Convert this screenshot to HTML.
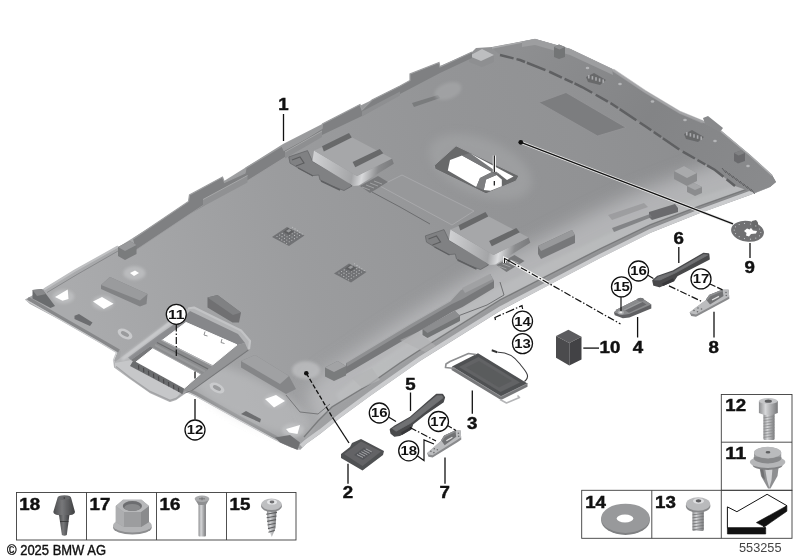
<!DOCTYPE html>
<html><head><meta charset="utf-8"><title>Headliner</title>
<style>
html,body{margin:0;padding:0;background:#fff;}
svg{display:block;}
text{font-family:"Liberation Sans",sans-serif;fill:#111;}
.b{font-weight:bold;}
.c{font-weight:normal;}
</style></head><body>
<svg width="800" height="560" viewBox="0 0 800 560">
<defs>
<linearGradient id="gSurf" gradientUnits="userSpaceOnUse" x1="80" y1="330" x2="720" y2="150">
<stop offset="0" stop-color="#aaabad"/><stop offset="0.35" stop-color="#9b9c9e"/><stop offset="0.6" stop-color="#949597"/><stop offset="0.8" stop-color="#919294"/><stop offset="1" stop-color="#8c8d8f"/>
</linearGradient>
<linearGradient id="gRim" gradientUnits="userSpaceOnUse" x1="150" y1="430" x2="760" y2="180">
<stop offset="0" stop-color="#a3a4a6"/><stop offset="0.5" stop-color="#9b9c9e"/><stop offset="1" stop-color="#858688"/>
</linearGradient>
<linearGradient id="gBand" gradientUnits="userSpaceOnUse" x1="520" y1="40" x2="780" y2="190">
<stop offset="0" stop-color="#8e8f91"/><stop offset="0.5" stop-color="#838486"/><stop offset="1" stop-color="#8a8b8d"/>
</linearGradient>
<linearGradient id="gSilver" gradientUnits="userSpaceOnUse" x1="0" y1="0" x2="1" y2="0">
<stop offset="0" stop-color="#c8c9cb"/><stop offset="1" stop-color="#8c8d8f"/>
</linearGradient>
<linearGradient id="gH1" gradientUnits="userSpaceOnUse" x1="313" y1="160" x2="394" y2="175">
<stop offset="0" stop-color="#cfd0d2"/><stop offset="0.5" stop-color="#a4a5a7"/><stop offset="0.62" stop-color="#d8d9db"/><stop offset="0.8" stop-color="#8a8b8d"/><stop offset="1" stop-color="#77787a"/>
</linearGradient>
<linearGradient id="gH2" gradientUnits="userSpaceOnUse" x1="449" y1="238" x2="531" y2="252">
<stop offset="0" stop-color="#cfd0d2"/><stop offset="0.5" stop-color="#a4a5a7"/><stop offset="0.62" stop-color="#dcdddf"/><stop offset="0.8" stop-color="#8a8b8d"/><stop offset="1" stop-color="#77787a"/>
</linearGradient>
<linearGradient id="gMetalV" x1="0" y1="0" x2="1" y2="0">
<stop offset="0" stop-color="#8d8e90"/><stop offset="0.35" stop-color="#d6d7d9"/><stop offset="1" stop-color="#77787a"/>
</linearGradient>
<linearGradient id="gDarkV" x1="0" y1="0" x2="1" y2="0">
<stop offset="0" stop-color="#4a4b4d"/><stop offset="0.4" stop-color="#77787a"/><stop offset="1" stop-color="#3e3f41"/>
</linearGradient>
<filter id="soft" x="-5%" y="-5%" width="110%" height="110%"><feGaussianBlur stdDeviation="0.6"/></filter>
<filter id="soft2" x="-20%" y="-20%" width="140%" height="140%"><feGaussianBlur stdDeviation="4"/></filter>
<filter id="soft1" x="-20%" y="-20%" width="140%" height="140%"><feGaussianBlur stdDeviation="1.5"/></filter>
<filter id="soft3" x="-20%" y="-20%" width="140%" height="140%"><feGaussianBlur stdDeviation="9"/></filter>

</defs>
<rect width="800" height="560" fill="#fff"/>
<g filter="url(#soft)">
<polygon points="25,299.5 42,290 75,270 120,246 192,201 240,171 283,144 330,120 372,100 400,86 440,66 472,52 476,48 492,47 535,39 570,49 612,69 645,91 680,112 705,122 720,130 750,155 772,175 776,182 770,187 750,195 700,213 650,233 600,258 545,287 500,311 460,336 420,361 400,375 370,396 340,418 320,434 306,444 300,450 290,447 275,440 240,421 195,396 186,392 176,399 170,401 150,392 130,378 115,367 114,360 117,353 100,343 60,320 30,304" fill="url(#gRim)" stroke="none" stroke-width="1" />
<polyline points="768,186 750,193 700,211 650,231 600,256 545,285 500,308.5 460,333.5 420,358.5 400,372.5 370,393.5 340,415.5 320,431.5 306,441.5 301,446" fill="none" stroke="#cbccce" stroke-width="4" />
<polygon points="33,298 42,291 75,271 120,247 192,202 240,172 283,145 330,121 372,101 400,87 440,67 472,53 492,48 535,41 570,51 612,71 645,93 680,114 705,124 720,132 750,157 768,176 764,182 745,189 700,205 650,224 600,248 545,276 500,299 460,324 420,349 400,362 370,383 332,406 318,420 304,436 297,443 275,434 240,415 199,392.5 186,387 176,394 169,396 150,387 130,373 119,364 121,351 100,339 60,316.5" fill="url(#gSurf)" stroke="none" stroke-width="1" />
<clipPath id="cpInner"><polygon points="33,298 42,291 75,271 120,247 192,202 240,172 283,145 330,121 372,101 400,87 440,67 472,53 492,48 535,41 570,51 612,71 645,93 680,114 705,124 720,132 750,157 768,176 764,182 745,189 700,205 650,224 600,248 545,276 500,299 460,324 420,349 400,362 370,383 332,406 318,420 304,436 297,443 275,434 240,415 199,392.5 186,387 176,394 169,396 150,387 130,373 119,364 121,351 100,339 60,316.5"/></clipPath>
<g clip-path="url(#cpInner)">
<polyline points="770,176 745,186 700,202 650,221 600,245 545,273 500,296 460,321 420,346 400,359 370,380 340,400" fill="none" stroke="#bfc0c2" stroke-width="64" opacity="0.75" filter="url(#soft3)" stroke-linecap="round"/>
</g>
<polygon points="545,277 500,300 460,325 420,350 400,363 370,384 340,402 336,394 366,370 398,349 418,336 458,311 498,287 543,265 600,238 650,215 700,197 745,182 764,176 764,183 745,190 700,206 650,225 600,249" fill="#c8c9cb" stroke="none" stroke-width="0" opacity="0.3" filter="url(#soft1)"/>
<polyline points="28,298.5 61.2,317.6 101.2,340.6 119,351" fill="none" stroke="#87888a" stroke-width="3.4" />
<polyline points="187,389.5 196.2,393.6 241.2,418.6 276.2,437.6 291,444.3 298,446.5" fill="none" stroke="#8a8b8d" stroke-width="3.4" />
<polyline points="26,300 60,319.5 100,342.5 116.5,352.5 113.5,360 114.5,366.5 130,377.5 150,391.5 170,400.5 176,398.5 186,391.5 195,395.5 240,420.5 275,439.5 290,446.5 300,449.5" fill="none" stroke="#c9cacc" stroke-width="1.3" />
<ellipse cx="250" cy="400" rx="68" ry="22" fill="#c9cacc" opacity="0.45" filter="url(#soft2)" transform="rotate(27 250 400)"/>
<polyline points="764,183 745,190 700,206 650,225 600,249 545,277 500,300 460,325 420,350 400,363 370,384 332,407 318,421 304,437" fill="none" stroke="#6f7072" stroke-width="1.3" opacity="0.8"/>
<polygon points="492,48 535,39 570,49 612,69 645,91 680,112 705,122 720,130 750,155 772,175 776,182 770,187 755,193 735,186 715,170 680,150 645,126 612,104 582,87 550,72 520,60 500,55" fill="url(#gBand)" stroke="none" stroke-width="1" />
<polyline points="492,48 535,39.5 570,49.5 612,69.5 645,91.5 680,112.5 705,122.5 720,130.5 750,155.5 772,175.5" fill="none" stroke="#a9aaac" stroke-width="1.5" />
<polyline points="500,55 520,60 550,72 582,87 612,104 645,126 680,150 715,170 735,186" fill="none" stroke="#5f6062" stroke-width="2.5" stroke-dasharray="14 3 9 2 20 4"/>
<polygon points="522,41.5 535,39 570,49 612,69 613,75 570,55 535,45 522,47" fill="#9d9ea0" stroke="none" stroke-width="1" />
<polyline points="613,70 645,91.5 680,112.5 703,122" fill="none" stroke="#a2a3a5" stroke-width="3" opacity="0.7"/>
<ellipse cx="587.5" cy="68" rx="1.8" ry="1.2" fill="#b4b5b7"/>
<ellipse cx="620" cy="84" rx="1.8" ry="1.2" fill="#b4b5b7"/>
<ellipse cx="652.5" cy="101.5" rx="1.8" ry="1.2" fill="#b4b5b7"/>
<ellipse cx="685" cy="120" rx="1.8" ry="1.2" fill="#b4b5b7"/>
<ellipse cx="715" cy="141" rx="1.8" ry="1.2" fill="#b4b5b7"/>
<ellipse cx="748" cy="166" rx="1.8" ry="1.2" fill="#b4b5b7"/>
<polyline points="500,282 504,295 487,305 450,319" fill="none" stroke="#707173" stroke-width="1" />
<line x1="722" y1="168" x2="726" y2="173" stroke="#5c5d5f" stroke-width="1" />
<line x1="725.6" y1="170.6" x2="729.6" y2="175.6" stroke="#5c5d5f" stroke-width="1" />
<line x1="729.2" y1="173.2" x2="733.2" y2="178.2" stroke="#5c5d5f" stroke-width="1" />
<line x1="732.8" y1="175.8" x2="736.8" y2="180.8" stroke="#5c5d5f" stroke-width="1" />
<line x1="736.4" y1="178.4" x2="740.4" y2="183.4" stroke="#5c5d5f" stroke-width="1" />
<line x1="740" y1="181" x2="744" y2="186" stroke="#5c5d5f" stroke-width="1" />
<line x1="743.6" y1="183.6" x2="747.6" y2="188.6" stroke="#5c5d5f" stroke-width="1" />
<line x1="747.2" y1="186.2" x2="751.2" y2="191.2" stroke="#5c5d5f" stroke-width="1" />
<line x1="750.8" y1="188.8" x2="754.8" y2="193.8" stroke="#5c5d5f" stroke-width="1" />
<polygon points="554,47 559,44.5 565,47 565,57 559,59 554,57" fill="#737476" stroke="none" stroke-width="1" />
<polygon points="554,47 559,44.5 565,47 559.5,49.5" fill="#8d8e90" stroke="none" stroke-width="1" />
<polygon points="734,153 741,150.5 745,153 745,161 738,163.5 734,161" fill="#6a6b6d" stroke="none" stroke-width="1" />
<polygon points="734,153 741,150.5 745,153 738.5,155.5" fill="#808183" stroke="none" stroke-width="1" />
<polygon points="586,77 594,73 606,80 600,85 588,82" fill="#68696b" stroke="none" stroke-width="1" />
<rect x="588" y="75" width="1.6" height="3.5" fill="#a9aaac"/>
<rect x="591.6" y="76.1" width="1.6" height="3.5" fill="#a9aaac"/>
<rect x="595.2" y="77.2" width="1.6" height="3.5" fill="#a9aaac"/>
<rect x="598.8" y="78.3" width="1.6" height="3.5" fill="#a9aaac"/>
<rect x="602.4" y="79.4" width="1.6" height="3.5" fill="#a9aaac"/>
<polygon points="684,134 692,130 704,137 698,142 686,139" fill="#68696b" stroke="none" stroke-width="1" />
<rect x="686" y="132" width="1.6" height="3.5" fill="#a9aaac"/>
<rect x="689.6" y="133.1" width="1.6" height="3.5" fill="#a9aaac"/>
<rect x="693.2" y="134.2" width="1.6" height="3.5" fill="#a9aaac"/>
<rect x="696.8" y="135.3" width="1.6" height="3.5" fill="#a9aaac"/>
<rect x="700.4" y="136.4" width="1.6" height="3.5" fill="#a9aaac"/>
<polygon points="469,56 482,49 494,55 494,62 482,67 469,62" fill="#8e8f91" stroke="none" stroke-width="1" />
<polygon points="469,56 482,49 494,55 481,61" fill="#bdbec0" stroke="none" stroke-width="1" />
<polygon points="703,118 708,116 723,128 720,132 705,124" fill="#88898b" stroke="none" stroke-width="1" />
<polygon points="133,239 188.5,201.5 189.5,195 222.5,177 224.5,182.5 245,173 246,168 282,146 284,150.5 307.5,137.5 322,128.5 322.5,124 360,104.5 362,110 372,100 400,86 410,80.5 410,74 439,62.5 440,67 472,52 472,58 440,73 400,94 362,116 322,135 284,158 247,181 225,191 202,207 190,214 136,250" fill="#7f8082" stroke="none" stroke-width="1" />
<polyline points="133,239 188.5,201.5 189.5,195 222.5,177 224.5,182.5 245,173 246,168 282,146 284,150.5 307.5,137.5 322,128.5 322.5,124 360,104.5 362,110 372,100 400,86 410,80.5 410,74 439,62.5 440,67 472,52" fill="none" stroke="#9c9d9f" stroke-width="1.2" />
<polyline points="136,250 190,214 225,191 247,181 284,158 322,135" fill="none" stroke="#9fa0a2" stroke-width="0.8" />
<polygon points="203,199.5 247.5,175.5 247.5,182.5 203,206.5" fill="#909193" stroke="none" stroke-width="1" />
<polyline points="203,199.5 247.5,175.5" fill="none" stroke="#a9aaac" stroke-width="0.9" />
<polygon points="285,152 322,131 322,137 285,158.5" fill="#8e8f91" stroke="none" stroke-width="1" />
<polyline points="285,152 322,131" fill="none" stroke="#a9aaac" stroke-width="0.9" />
<polygon points="362,111.5 400,91.5 400,95.5 362,116.5" fill="#8e8f91" stroke="none" stroke-width="1" />
<polyline points="44,289.5 75,270.5 118,246.5" fill="none" stroke="#bfc0c2" stroke-width="2.2" />
<polyline points="47,292.5 77,274.5 118,251" fill="none" stroke="#808183" stroke-width="1" opacity="0.8"/>
<polygon points="118,247 130,241 136.5,245 136.5,254 125,260 118,256" fill="#7a7b7d" stroke="none" stroke-width="1" />
<polygon points="118,247 130,241 136.5,245 125,251" fill="#98999b" stroke="none" stroke-width="1" />
<polygon points="32.5,290 42,289 46,294 55,306 50.5,308 32.5,298.5" fill="#6b6c6e" stroke="none" stroke-width="1" />
<polygon points="32.5,290 42,289 46,294 37,296" fill="#88898b" stroke="none" stroke-width="1" />
<polygon points="74.5,315.8 79,314 92.5,322.5 90,326 74.5,319" fill="#6c6d6f" stroke="none" stroke-width="1" />
<polygon points="538.8,102.5 566,92.5 626,127.5 597.5,136" fill="#7c7d7f" stroke="#959698" stroke-width="0.8" />
<polygon points="380,186 402,175 474,211 452,225" fill="#98999b" stroke="#b2b3b5" stroke-width="0.8" opacity="0.8"/>
<polygon points="396,243 430,262 396,282 380,272" fill="#9d9ea0" stroke="none" stroke-width="0" opacity="0.0"/>
<ellipse cx="480" cy="166" rx="54" ry="28" fill="#a6a7a9" opacity="0.55" filter="url(#soft2)" transform="rotate(22 478 168)"/>
<polygon points="434.3,165.3 456,145.8 519,175.8 516,181 486,193.8 435,169" fill="#68696b" stroke="none" stroke-width="1" />
<polyline points="434.3,165.3 456,145.8 519,175.8 516,181 486,193.8 435,169 434.3,165.3" fill="none" stroke="#9fa0a2" stroke-width="1" />
<polygon points="447.8,170.5 450,160 462,155.5 492,172 480,178 476.3,187" fill="#fff" stroke="none" stroke-width="1" />
<polygon points="483.8,190 486,179.5 496.5,175 501.8,179.5 501.8,186.3 490.5,190.8" fill="#fff" stroke="none" stroke-width="1" />
<polygon points="470.5,153.5 513.5,176.5 507,180 500.5,175 469,157.5" fill="#fff" stroke="none" stroke-width="1" />
<polygon points="462,155.5 470,153 501,175 492,172" fill="#77787a" stroke="none" stroke-width="1" />
<polygon points="476.3,187 480,178 492,172 496.5,175 486,179.5 483.8,190" fill="#7d7e80" stroke="none" stroke-width="1" />
<polygon points="288.8,156.9 307.5,150.6 312.5,161.3 347.5,181.3 352,186 344,190.5 332.5,186.3 320,180 318.8,175 312.5,175.6 297.5,167.5 290,163.1" fill="#808183" stroke="#66676a" stroke-width="0.8" />
<polyline points="292,160 300,157 304,163 296,166" fill="none" stroke="#5c5d5f" stroke-width="1.2" />
<polyline points="298,168 313,176" fill="none" stroke="#5f6062" stroke-width="1.4" />
<polyline points="321,181 340,190" fill="none" stroke="#5f6062" stroke-width="1.4" />
<polygon points="314,150.6 357,176 392,158.5 393.8,163.8 358.8,185.6 353.5,186 312.4,161" fill="url(#gH1)" stroke="none" stroke-width="1" />
<polygon points="314,150.6 349,135.8 392,158.5 357,176" fill="#a6a7a9" stroke="none" stroke-width="1" />
<polygon points="322,146.3 349,133 351.8,137.5 323.8,151.5" fill="#68696b" stroke="none" stroke-width="1" />
<polygon points="352.6,162 379.8,149 383.3,153.3 355.3,167.3" fill="#68696b" stroke="none" stroke-width="1" />
<polygon points="360,186 378,176 388,182 370,193" fill="#77787a" stroke="none" stroke-width="1" />
<line x1="362" y1="187" x2="370" y2="190" stroke="#b0b1b3" stroke-width="0.7" />
<line x1="366" y1="185" x2="374" y2="188" stroke="#b0b1b3" stroke-width="0.7" />
<line x1="370" y1="183" x2="378" y2="186" stroke="#b0b1b3" stroke-width="0.7" />
<line x1="374" y1="181" x2="382" y2="184" stroke="#b0b1b3" stroke-width="0.7" />
<polygon points="425.3,235.9 444,229.6 449,240.3 484,260.3 488.5,265 480.5,269.5 469,265.3 456.5,259 455.3,254 449,254.6 434,246.5 426.5,242.1" fill="#808183" stroke="#66676a" stroke-width="0.8" />
<polyline points="428.5,239 436.5,236 440.5,242 432.5,245" fill="none" stroke="#5c5d5f" stroke-width="1.2" />
<polyline points="434.5,247 449.5,255" fill="none" stroke="#5f6062" stroke-width="1.4" />
<polyline points="457.5,260 476.5,269" fill="none" stroke="#5f6062" stroke-width="1.4" />
<polygon points="450.5,229.6 493.5,255 528.5,237.5 530.3,242.8 495.3,264.6 490,265 448.9,240" fill="url(#gH2)" stroke="none" stroke-width="1" />
<polygon points="450.5,229.6 485.5,214.8 528.5,237.5 493.5,255" fill="#a6a7a9" stroke="none" stroke-width="1" />
<polygon points="458.5,225.3 485.5,212 488.3,216.5 460.3,230.5" fill="#68696b" stroke="none" stroke-width="1" />
<polygon points="489.1,241 516.3,228 519.8,232.3 491.8,246.3" fill="#68696b" stroke="none" stroke-width="1" />
<polygon points="496.5,265 514.5,255 524.5,261 506.5,272" fill="#77787a" stroke="none" stroke-width="1" />
<line x1="498.5" y1="266" x2="506.5" y2="269" stroke="#b0b1b3" stroke-width="0.7" />
<line x1="502.5" y1="264" x2="510.5" y2="267" stroke="#b0b1b3" stroke-width="0.7" />
<line x1="506.5" y1="262" x2="514.5" y2="265" stroke="#b0b1b3" stroke-width="0.7" />
<line x1="510.5" y1="260" x2="518.5" y2="263" stroke="#b0b1b3" stroke-width="0.7" />
<polyline points="372,192 400,207 430,224" fill="none" stroke="#6c6d6f" stroke-width="1" />
<polygon points="272,237 287,227 304.5,235.5 289,246" fill="#717274" stroke="none" stroke-width="1" />
<circle cx="277" cy="236.5" r="0.55" fill="#c4c5c7"/>
<circle cx="279.4" cy="238.2" r="0.55" fill="#c4c5c7"/>
<circle cx="281.8" cy="239.9" r="0.55" fill="#c4c5c7"/>
<circle cx="284.2" cy="241.6" r="0.55" fill="#c4c5c7"/>
<circle cx="286.6" cy="243.3" r="0.55" fill="#c4c5c7"/>
<circle cx="279.6" cy="234.95" r="0.55" fill="#c4c5c7"/>
<circle cx="282" cy="236.65" r="0.55" fill="#c4c5c7"/>
<circle cx="284.4" cy="238.35" r="0.55" fill="#c4c5c7"/>
<circle cx="286.8" cy="240.05" r="0.55" fill="#c4c5c7"/>
<circle cx="289.2" cy="241.75" r="0.55" fill="#c4c5c7"/>
<circle cx="282.2" cy="233.4" r="0.55" fill="#c4c5c7"/>
<circle cx="284.6" cy="235.1" r="0.55" fill="#c4c5c7"/>
<circle cx="287" cy="236.8" r="0.55" fill="#c4c5c7"/>
<circle cx="289.4" cy="238.5" r="0.55" fill="#c4c5c7"/>
<circle cx="291.8" cy="240.2" r="0.55" fill="#c4c5c7"/>
<circle cx="284.8" cy="231.85" r="0.55" fill="#c4c5c7"/>
<circle cx="287.2" cy="233.55" r="0.55" fill="#c4c5c7"/>
<circle cx="289.6" cy="235.25" r="0.55" fill="#c4c5c7"/>
<circle cx="292" cy="236.95" r="0.55" fill="#c4c5c7"/>
<circle cx="294.4" cy="238.65" r="0.55" fill="#c4c5c7"/>
<circle cx="287.4" cy="230.3" r="0.55" fill="#c4c5c7"/>
<circle cx="289.8" cy="232" r="0.55" fill="#c4c5c7"/>
<circle cx="292.2" cy="233.7" r="0.55" fill="#c4c5c7"/>
<circle cx="294.6" cy="235.4" r="0.55" fill="#c4c5c7"/>
<circle cx="297" cy="237.1" r="0.55" fill="#c4c5c7"/>
<circle cx="290" cy="228.75" r="0.55" fill="#c4c5c7"/>
<circle cx="292.4" cy="230.45" r="0.55" fill="#c4c5c7"/>
<circle cx="294.8" cy="232.15" r="0.55" fill="#c4c5c7"/>
<circle cx="297.2" cy="233.85" r="0.55" fill="#c4c5c7"/>
<circle cx="299.6" cy="235.55" r="0.55" fill="#c4c5c7"/>
<circle cx="292.6" cy="227.2" r="0.55" fill="#c4c5c7"/>
<circle cx="295" cy="228.9" r="0.55" fill="#c4c5c7"/>
<circle cx="297.4" cy="230.6" r="0.55" fill="#c4c5c7"/>
<circle cx="299.8" cy="232.3" r="0.55" fill="#c4c5c7"/>
<circle cx="302.2" cy="234" r="0.55" fill="#c4c5c7"/>
<polygon points="283,232 288,228 294,231 289,235" fill="#5f6062" stroke="none" stroke-width="1" />
<polygon points="286,231 289,229 291.5,230.5 288.5,232.5" fill="#98999b" stroke="none" stroke-width="1" />
<polygon points="334,273.5 349,263.5 366.5,272 351,282.5" fill="#717274" stroke="none" stroke-width="1" />
<circle cx="339" cy="273" r="0.55" fill="#c4c5c7"/>
<circle cx="341.4" cy="274.7" r="0.55" fill="#c4c5c7"/>
<circle cx="343.8" cy="276.4" r="0.55" fill="#c4c5c7"/>
<circle cx="346.2" cy="278.1" r="0.55" fill="#c4c5c7"/>
<circle cx="348.6" cy="279.8" r="0.55" fill="#c4c5c7"/>
<circle cx="341.6" cy="271.45" r="0.55" fill="#c4c5c7"/>
<circle cx="344" cy="273.15" r="0.55" fill="#c4c5c7"/>
<circle cx="346.4" cy="274.85" r="0.55" fill="#c4c5c7"/>
<circle cx="348.8" cy="276.55" r="0.55" fill="#c4c5c7"/>
<circle cx="351.2" cy="278.25" r="0.55" fill="#c4c5c7"/>
<circle cx="344.2" cy="269.9" r="0.55" fill="#c4c5c7"/>
<circle cx="346.6" cy="271.6" r="0.55" fill="#c4c5c7"/>
<circle cx="349" cy="273.3" r="0.55" fill="#c4c5c7"/>
<circle cx="351.4" cy="275" r="0.55" fill="#c4c5c7"/>
<circle cx="353.8" cy="276.7" r="0.55" fill="#c4c5c7"/>
<circle cx="346.8" cy="268.35" r="0.55" fill="#c4c5c7"/>
<circle cx="349.2" cy="270.05" r="0.55" fill="#c4c5c7"/>
<circle cx="351.6" cy="271.75" r="0.55" fill="#c4c5c7"/>
<circle cx="354" cy="273.45" r="0.55" fill="#c4c5c7"/>
<circle cx="356.4" cy="275.15" r="0.55" fill="#c4c5c7"/>
<circle cx="349.4" cy="266.8" r="0.55" fill="#c4c5c7"/>
<circle cx="351.8" cy="268.5" r="0.55" fill="#c4c5c7"/>
<circle cx="354.2" cy="270.2" r="0.55" fill="#c4c5c7"/>
<circle cx="356.6" cy="271.9" r="0.55" fill="#c4c5c7"/>
<circle cx="359" cy="273.6" r="0.55" fill="#c4c5c7"/>
<circle cx="352" cy="265.25" r="0.55" fill="#c4c5c7"/>
<circle cx="354.4" cy="266.95" r="0.55" fill="#c4c5c7"/>
<circle cx="356.8" cy="268.65" r="0.55" fill="#c4c5c7"/>
<circle cx="359.2" cy="270.35" r="0.55" fill="#c4c5c7"/>
<circle cx="361.6" cy="272.05" r="0.55" fill="#c4c5c7"/>
<circle cx="354.6" cy="263.7" r="0.55" fill="#c4c5c7"/>
<circle cx="357" cy="265.4" r="0.55" fill="#c4c5c7"/>
<circle cx="359.4" cy="267.1" r="0.55" fill="#c4c5c7"/>
<circle cx="361.8" cy="268.8" r="0.55" fill="#c4c5c7"/>
<circle cx="364.2" cy="270.5" r="0.55" fill="#c4c5c7"/>
<polygon points="345,268.5 350,264.5 356,267.5 351,271.5" fill="#5f6062" stroke="none" stroke-width="1" />
<polygon points="348,267.5 351,265.5 353.5,267 350.5,269" fill="#98999b" stroke="none" stroke-width="1" />
<polygon points="346,362.5 410,324 450,301 460,290 490,274 494,281 494,288 462.5,307 452,312 412.5,335 346,374" fill="#77787a" stroke="none" stroke-width="1" />
<polygon points="346,362.5 410,324 450,301 460,290 490,274 494,281 462.5,299 452,304 412.5,327 347,366.5" fill="#8f9092" stroke="none" stroke-width="1" />
<polyline points="346,362.5 410,324 450,301 460,290 490,274" fill="none" stroke="#acadaf" stroke-width="1.2" />
<polygon points="325,367.5 337.5,361 346,366 346,375.5 334,381 325,376.5" fill="#7a7b7d" stroke="none" stroke-width="1" />
<polygon points="325,367.5 337.5,361 346,366 334,372" fill="#a2a3a5" stroke="none" stroke-width="1" />
<polygon points="422.5,329 455,311 460,316 460,321 427.5,338 422.5,335" fill="#737476" stroke="none" stroke-width="1" />
<polygon points="422.5,329 455,311 460,316 427.5,333" fill="#8c8d8f" stroke="none" stroke-width="1" />
<polygon points="352,378 372,368 380,380 362,388" fill="#b4b5b7" stroke="none" stroke-width="0" opacity="0.7"/>
<polygon points="400,340 418,332 436,346 425,352" fill="#b0b1b3" stroke="none" stroke-width="0" opacity="0.6"/>
<polygon points="674,171 684,166 697,173 697,181 687,186 674,179" fill="#8b8c8e" stroke="none" stroke-width="1" />
<polygon points="674,171 684,166 697,173 687,178" fill="#a9aaac" stroke="none" stroke-width="1" />
<polygon points="687,186 694,183 702,187 702,193 695,196 687,192" fill="#8b8c8e" stroke="none" stroke-width="1" />
<polygon points="687,186 694,183 702,187 695,190" fill="#a5a6a8" stroke="none" stroke-width="1" />
<polygon points="649,212 675,204 678,208 678,212 652,220 649,217" fill="#6a6b6d" stroke="none" stroke-width="1" />
<polygon points="608,215 644,203 648,207 612,220" fill="#98999b" stroke="none" stroke-width="0" opacity="0.8"/>
<polygon points="612,228 650,214 652,217 614,232" fill="#77787a" stroke="none" stroke-width="0" opacity="0.8"/>
<polygon points="538,246 572,230 575,235 575,243 541,259 538,254" fill="#77787a" stroke="none" stroke-width="1" />
<polygon points="538,246 572,230 575,235 541,251" fill="#98999b" stroke="none" stroke-width="1" />
<polygon points="462,288 490,274 493,279 465,293" fill="#a0a1a3" stroke="none" stroke-width="1" />
<polygon points="412,103 438,95 440,98 414,107" fill="#77787a" stroke="none" stroke-width="0" opacity="0.9"/>
<ellipse cx="448" cy="91" rx="14" ry="8" fill="#a9aaac" opacity="0.6" filter="url(#soft1)" transform="rotate(-20 448 91)"/>
<polygon points="101,285 110,277 147.5,294 146.5,304 140,306.5 101,289" fill="#828385" stroke="none" stroke-width="1" />
<polygon points="101,285 110,277 147.5,294 140,300.5" fill="#9a9b9d" stroke="none" stroke-width="1" />
<polygon points="241,361 255,355 289,376 296,389 286,394 241,367.5" fill="#858688" stroke="none" stroke-width="1" />
<polygon points="241,361 255,355 289,376 280,384" fill="#a0a1a3" stroke="none" stroke-width="1" />
<polyline points="286,395 300,412 318,414 330,404" fill="none" stroke="#77787a" stroke-width="1" />
<polygon points="207.5,297.5 217.5,295 241,312.5 239,322.5 232.5,322.5 207.5,307.5" fill="#6f7072" stroke="none" stroke-width="1" />
<polygon points="207.5,297.5 217.5,295 241,312.5 233,315" fill="#808183" stroke="none" stroke-width="1" />
<ellipse cx="63.425" cy="296.575" rx="11" ry="7" fill="#c3c4c6" opacity="0.7" filter="url(#soft1)"/>
<polygon points="55,297 67.7,289.5 68.5,299 62.5,300.8" fill="#fff" stroke="none" stroke-width="1" />
<ellipse cx="103.075" cy="302.825" rx="11" ry="7" fill="#c3c4c6" opacity="0.7" filter="url(#soft1)"/>
<polygon points="93,301.5 102,297 113.5,303.8 103.8,309" fill="#fff" stroke="none" stroke-width="1" />
<ellipse cx="134.5" cy="273.125" rx="11" ry="7" fill="#c3c4c6" opacity="0.7" filter="url(#soft1)"/>
<polygon points="130,273 135,270.5 139,273 134,276" fill="#fff" stroke="none" stroke-width="1" />
<ellipse cx="275" cy="400.625" rx="11" ry="7" fill="#c3c4c6" opacity="0.7" filter="url(#soft1)"/>
<polygon points="265,399 276,395 285,401 274,407.5" fill="#fff" stroke="none" stroke-width="1" />
<ellipse cx="293.125" cy="430.125" rx="11" ry="7" fill="#c3c4c6" opacity="0.7" filter="url(#soft1)"/>
<polygon points="286,429 300,425 297.5,434 289,432.5" fill="#fff" stroke="none" stroke-width="1" />
<polygon points="241,414 246,411 261,419 260,422.5" fill="#6d6e70" stroke="none" stroke-width="1" />
<polygon points="275,437.5 290,435 300,442.5 297.5,450 280,442.5" fill="#707173" stroke="none" stroke-width="1" />
<ellipse cx="125" cy="334" rx="8" ry="4.5" fill="#c9cacc" transform="rotate(28 125 334)"/>
<ellipse cx="125" cy="334" rx="4.5" ry="2" fill="#9a9b9d" transform="rotate(28 125 334)"/>
<ellipse cx="217" cy="388" rx="8" ry="4.5" fill="#c9cacc" transform="rotate(28 217 388)"/>
<ellipse cx="217" cy="388" rx="4.5" ry="2" fill="#9a9b9d" transform="rotate(28 217 388)"/>
<ellipse cx="306" cy="370" rx="14" ry="9" fill="#c2c3c5" opacity="0.7" filter="url(#soft1)"/>
<polygon points="115,363 129.4,352.5 178,316 186,310 194,308 240,331 249.5,341 248,350 191.3,390 186,392 176,399 170,401 150,392 130,378 115,367" fill="#b4b5b7" stroke="#b4b5b7" stroke-width="2" stroke-linejoin="round"/>
<polygon points="190,311 238,334 245,343 237.5,345 186,322 183,318" fill="#86878a" stroke="none" stroke-width="1" />
<polyline points="188,308.5 194,307.5 241,330.5 250,341 249,349" fill="none" stroke="#c2c3c5" stroke-width="2.2" stroke-linejoin="round"/>
<polygon points="245,343 248,350 191.3,390 180,393 176.3,388 195,372.2 211.9,364.3 237.5,345" fill="#939496" stroke="none" stroke-width="1" />
<polyline points="248.5,350 191.8,390.5 181,394" fill="none" stroke="#77787a" stroke-width="1.2" />
<polygon points="131,360 150,346.5 162,340.5 186,322 183,318 160,334 128,357.5" fill="#8b8c8f" stroke="none" stroke-width="1" />
<polyline points="122,359.5 131,352.5 166,326 184,312.5" fill="none" stroke="#d4d5d7" stroke-width="2.6" filter="url(#soft1)"/>
<polygon points="115,363 131,360 177,390 180,393 176,399 170,401 150,392 130,378 115,367" fill="#c6c7c9" stroke="none" stroke-width="1" />
<polyline points="116,366.5 130,377.5 150,391.5 170,400.5 176,398.5 186,391.5" fill="none" stroke="#a3a4a6" stroke-width="1.5" />
<polygon points="131,360 150,346.5 162,340.5 212.5,365.6 201,374 184,389.5 177,390" fill="#77787a" stroke="none" stroke-width="1" />
<polygon points="162,340.5 186,322.5 237,344.8 212.5,365" fill="#fff" stroke="#fff" stroke-width="1" stroke-linejoin="round"/>
<polygon points="136,362 153,348.5 200.5,374 184,388.5" fill="#fff" stroke="#fff" stroke-width="1" stroke-linejoin="round"/>
<polyline points="205,331.5 204,335 207.5,336" fill="none" stroke="#8e8f91" stroke-width="1" />
<polyline points="222,339 221,342.5 224.5,343.5" fill="none" stroke="#8e8f91" stroke-width="1" />
<polygon points="150,346.5 161.5,339.5 213,365.5 201.5,374.5 153,348" fill="#8c8d8f" stroke="none" stroke-width="1" />
<polyline points="157,342.5 208,369" fill="none" stroke="#6a6b6d" stroke-width="1.2" />
<polyline points="161.5,340 212.5,366" fill="none" stroke="#b4b5b7" stroke-width="1.2" />
<polyline points="153,348 201,374" fill="none" stroke="#a5a6a8" stroke-width="1" />
<polyline points="155,345 205,371.5" fill="none" stroke="#a0a1a3" stroke-width="2" opacity="0.6"/>
<polygon points="133,361 136,362 184,388.5 182.5,394 130,366" fill="#6b6c6e" stroke="none" stroke-width="1" />
<line x1="138.5" y1="365.2" x2="138.8" y2="369.6" stroke="#48494b" stroke-width="1.1" />
<line x1="143.5" y1="368" x2="143.8" y2="372.4" stroke="#48494b" stroke-width="1.1" />
<line x1="148.5" y1="370.8" x2="148.8" y2="375.2" stroke="#48494b" stroke-width="1.1" />
<line x1="153.5" y1="373.6" x2="153.8" y2="378" stroke="#48494b" stroke-width="1.1" />
<line x1="158.5" y1="376.4" x2="158.8" y2="380.8" stroke="#48494b" stroke-width="1.1" />
<line x1="163.5" y1="379.2" x2="163.8" y2="383.6" stroke="#48494b" stroke-width="1.1" />
<line x1="168.5" y1="382" x2="168.8" y2="386.4" stroke="#48494b" stroke-width="1.1" />
<line x1="173.5" y1="384.8" x2="173.8" y2="389.2" stroke="#48494b" stroke-width="1.1" />
<line x1="178.5" y1="387.6" x2="178.8" y2="392" stroke="#48494b" stroke-width="1.1" />
</g>
<g filter="url(#soft)">
<polygon points="556,336 568.4,329.8 581.5,336.8 569.3,343" fill="#5c5c5e" stroke="none" stroke-width="1" />
<polygon points="556,336 569.3,343 569.3,365.6 556,357.8" fill="#4b4b4d" stroke="none" stroke-width="1" />
<polygon points="569.3,343 581.5,336.8 581.5,359.5 569.3,365.6" fill="#434345" stroke="none" stroke-width="1" />
<polygon points="452,366.5 501,396.5 527.5,383.5 527.5,386.8 501,400 451.5,370" fill="#77787a" stroke="none" stroke-width="1" />
<polygon points="452,366.5 478,353.3 527.5,383.5 501,396.5" fill="#505153" stroke="none" stroke-width="1" />
<polygon points="459,367 478.5,357 520,382.5 500.5,392" fill="#626365" stroke="none" stroke-width="1" />
<polygon points="466,367.5 479,361 512,381 499,387.5" fill="#5a5b5d" stroke="none" stroke-width="1" />
<polyline points="452.5,367 501,396.5 527.5,383.5" fill="none" stroke="#8f9092" stroke-width="0.9" />
<polyline points="455,368.5 445.5,367.5 446,364 450,361.5 468.5,353.5 476,354.5" fill="none" stroke="#8e8f91" stroke-width="1.7" stroke-linejoin="round"/>
<polyline points="500,399.5 506.5,403 519.5,397.5 517.5,395.5" fill="none" stroke="#b4b5b7" stroke-width="1.6" stroke-linejoin="round"/>
<path d="M497.5,352.3 C506,352 514,356 520,364 S531,376 524.5,381.5" fill="none" stroke="#3c3c3e" stroke-width="1.1"/>
<polygon points="492,349.2 497.5,351.3 497,353.3 491.5,351.2" fill="#333" stroke="none" stroke-width="1" />
<polygon points="341,454 350,447 352,443 361,439 384,451 383,455 362.5,470.5 341,458" fill="#505153" stroke="none" stroke-width="1" />
<polygon points="344,454 361,441.5 381,451.5 362.5,466" fill="#636466" stroke="none" stroke-width="1" />
<polygon points="354,455 364,447.5 373,452 363,460" fill="#55565a" stroke="none" stroke-width="1" />
<line x1="357" y1="454.5" x2="363" y2="457.5" stroke="#c9cacc" stroke-width="0.7" />
<line x1="359.2" y1="453.1" x2="365.2" y2="456.1" stroke="#c9cacc" stroke-width="0.7" />
<line x1="361.4" y1="451.7" x2="367.4" y2="454.7" stroke="#c9cacc" stroke-width="0.7" />
<line x1="363.6" y1="450.3" x2="369.6" y2="453.3" stroke="#c9cacc" stroke-width="0.7" />
<line x1="365.8" y1="448.9" x2="371.8" y2="451.9" stroke="#c9cacc" stroke-width="0.7" />
<polygon points="390.5,429.5 394.1,426.8 409.9,417.8 427.8,402 436.5,394.6 442.5,394.6 444.3,397.4 443,401.8 425,414.2 412.6,423.8 411,428.6 399.6,435.2 394.5,436 391.2,433.1" fill="#48494b" stroke="#48494b" stroke-width="1.6" stroke-linejoin="round"/>
<polygon points="392.5,428.5 409.9,418.4 427.8,403.2 436.9,395.8 442,395.8 443,397.8 425,411.8 411.3,422.8 396.1,431.2" fill="#707173" stroke="#707173" stroke-width="0.8" stroke-linejoin="round"/>
<polygon points="401,432.5 410.5,427 411.5,429.5 402,435" fill="#38393b" stroke="none" stroke-width="1" />
<polygon points="653,280.6 657.8,276.4 673.5,271 703.3,253.6 708.5,254 709,259 677,275.5 673.5,280.8 659.5,286.6 654,285" fill="#48494b" stroke="#48494b" stroke-width="1.6" stroke-linejoin="round"/>
<polygon points="654.5,280 658.2,277 673.8,271.8 703.5,254.6 707.8,255 676,272.6 660,280" fill="#707173" stroke="#707173" stroke-width="0.8" stroke-linejoin="round"/>
<polygon points="662,283.5 673,278.3 674.3,280.8 663.3,286" fill="#38393b" stroke="none" stroke-width="1" />
<polygon points="613.9,312.5 617.2,309.3 636.7,299.5 641.6,297.9 651.3,304.4 651.3,308.5 629.4,317.4 622.9,318.2 614.8,315.2" fill="#606163" stroke="none" stroke-width="1" />
<polygon points="613.9,312.5 617.2,309.3 636.7,299.5 641.6,297.9 651.3,304.4 629,314 622.5,315" fill="#8a8b8d" stroke="none" stroke-width="1" />
<polygon points="623.5,309.5 641,301 646.5,304.5 629,312.8" fill="#6a6b6d" stroke="none" stroke-width="1" />
<polygon points="623.5,309.5 641,301 642.5,302 625,310.6" fill="#9a9b9d" stroke="none" stroke-width="1" />
<ellipse cx="640.5" cy="299.6" rx="3.4" ry="1.8" fill="#77787a"/>
<ellipse cx="620.8" cy="312.6" rx="3.2" ry="2" fill="#a9aaac"/>
<ellipse cx="620.8" cy="312.4" rx="1.5" ry="0.9" fill="#e8e8e8"/>
<polygon points="689.6,312.5 696,307.6 705.8,300.3 709,295.4 722,289.8 728.6,289.8 729.4,298.7 725.3,301.1 696,316.8 691.2,316" fill="#8a8b8d" stroke="none" stroke-width="1" />
<polygon points="689.6,312.2 696,307.3 705.8,300 709,295.1 722,289.5 728.6,289.5 729.2,296.5 724.8,299 696,314.4 691.2,313.6" fill="#bcbdbf" stroke="none" stroke-width="1" />
<polygon points="706,299.5 709.5,294.8 722.5,289.8 723.5,296 710,304.5" fill="#727375" stroke="none" stroke-width="1" />
<polygon points="706,299.5 709.5,294.8 722.5,289.8 722.7,291.3 710.5,296.2 707.3,300.3" fill="#8f9092" stroke="none" stroke-width="1" />
<circle cx="694" cy="310.5" r="0.8" fill="#6a6b6d"/>
<circle cx="698" cy="308" r="0.8" fill="#6a6b6d"/>
<circle cx="701.5" cy="309" r="0.8" fill="#6a6b6d"/>
<circle cx="697.5" cy="311.8" r="0.8" fill="#6a6b6d"/>
<circle cx="726" cy="292.5" r="0.8" fill="#6a6b6d"/>
<circle cx="726.3" cy="295.5" r="0.8" fill="#6a6b6d"/>
<polyline points="712,300 719,296.4" fill="none" stroke="#e0e0e0" stroke-width="1.2" />
<polygon points="427.1,453.3 432.604,448.4 441.032,441.1 443.784,436.2 454.964,430.6 460.64,430.6 461.328,439.5 457.802,441.9 432.604,457.6 428.476,456.8" fill="#8a8b8d" stroke="none" stroke-width="1" />
<polygon points="427.1,453 432.604,448.1 441.032,440.8 443.784,435.9 454.964,430.3 460.64,430.3 461.156,437.3 457.372,439.8 432.604,455.2 428.476,454.4" fill="#bcbdbf" stroke="none" stroke-width="1" />
<polygon points="441.204,440.3 444.214,435.6 455.394,430.6 456.254,436.8 444.644,445.3" fill="#727375" stroke="none" stroke-width="1" />
<polygon points="441.204,440.3 444.214,435.6 455.394,430.6 455.566,432.1 445.074,437 442.322,441.1" fill="#8f9092" stroke="none" stroke-width="1" />
<circle cx="430.884" cy="451.3" r="0.8" fill="#6a6b6d"/>
<circle cx="434.324" cy="448.8" r="0.8" fill="#6a6b6d"/>
<circle cx="437.334" cy="449.8" r="0.8" fill="#6a6b6d"/>
<circle cx="433.894" cy="452.6" r="0.8" fill="#6a6b6d"/>
<circle cx="458.404" cy="433.3" r="0.8" fill="#6a6b6d"/>
<circle cx="458.662" cy="436.3" r="0.8" fill="#6a6b6d"/>
<polyline points="446.364,440.8 452.384,437.2" fill="none" stroke="#e0e0e0" stroke-width="1.2" />
<ellipse cx="747.5" cy="231.3" rx="16.5" ry="10.3" fill="#6f7072" transform="rotate(8 747.5 231.3)"/>
<polygon points="752,221 756,220 758,222.5 758,228 753,229" fill="#68696b" stroke="none" stroke-width="1" />
<path d="M744,231 l3,-2.5 l2.5,1 l1.5,-1.5 l2,2.5 l4,0.5 l-1,2.5 l-5,0.5 l-2,2.5 l-3,-1 l0.5,-2.5 z" fill="#fff"/>
<circle cx="760.8" cy="232.5" r="0.6" fill="#c9cacc"/>
<circle cx="759.5" cy="235.8" r="0.6" fill="#c9cacc"/>
<circle cx="755.8" cy="238.1" r="0.6" fill="#c9cacc"/>
<circle cx="750.5" cy="239.2" r="0.6" fill="#c9cacc"/>
<circle cx="744.5" cy="238.6" r="0.6" fill="#c9cacc"/>
<circle cx="739.2" cy="236.7" r="0.6" fill="#c9cacc"/>
<circle cx="735.5" cy="233.6" r="0.6" fill="#c9cacc"/>
<circle cx="734.2" cy="230.1" r="0.6" fill="#c9cacc"/>
<circle cx="735.5" cy="226.8" r="0.6" fill="#c9cacc"/>
<circle cx="739.2" cy="224.5" r="0.6" fill="#c9cacc"/>
<circle cx="744.5" cy="223.4" r="0.6" fill="#c9cacc"/>
<circle cx="750.5" cy="224.0" r="0.6" fill="#c9cacc"/>
<circle cx="755.8" cy="225.9" r="0.6" fill="#c9cacc"/>
<circle cx="759.5" cy="229.0" r="0.6" fill="#c9cacc"/>
</g>
<g fill="none" stroke="#3c3c3c" stroke-width="0.9">
<rect x="16.5" y="492.5" width="279.5" height="47.5"/>
<line x1="86.5" y1="492.5" x2="86.5" y2="540"/>
<line x1="156.5" y1="492.5" x2="156.5" y2="540"/>
<line x1="226.5" y1="492.5" x2="226.5" y2="540"/>
<rect x="581.7" y="490.3" width="210.3" height="48"/>
<rect x="721.3" y="394.5" width="70.7" height="95.8"/>
<line x1="721.3" y1="442.2" x2="792" y2="442.2"/>
<line x1="651.8" y1="490.3" x2="651.8" y2="538.3"/>
<line x1="721.3" y1="490.3" x2="721.3" y2="538.3"/>
</g>
<text x="19.3" y="509.6" class="b" font-size="16.8" stroke="#111" stroke-width="0.45" textLength="20.8" lengthAdjust="spacingAndGlyphs">18</text>
<text x="89.5" y="509.6" class="b" font-size="16.8" stroke="#111" stroke-width="0.45" textLength="20.8" lengthAdjust="spacingAndGlyphs">17</text>
<text x="159.5" y="509.6" class="b" font-size="16.8" stroke="#111" stroke-width="0.45" textLength="20.8" lengthAdjust="spacingAndGlyphs">16</text>
<text x="229.5" y="509.6" class="b" font-size="16.8" stroke="#111" stroke-width="0.45" textLength="20.8" lengthAdjust="spacingAndGlyphs">15</text>
<text x="585.2" y="507.7" class="b" font-size="16.8" stroke="#111" stroke-width="0.45" textLength="20.8" lengthAdjust="spacingAndGlyphs">14</text>
<text x="655" y="507.9" class="b" font-size="16.8" stroke="#111" stroke-width="0.45" textLength="20.8" lengthAdjust="spacingAndGlyphs">13</text>
<text x="725.3" y="411.4" class="b" font-size="16.8" stroke="#111" stroke-width="0.45" textLength="20.8" lengthAdjust="spacingAndGlyphs">12</text>
<text x="725.3" y="459.3" class="b" font-size="16.8" stroke="#111" stroke-width="0.45" textLength="20.8" lengthAdjust="spacingAndGlyphs">11</text>
<text x="7" y="554.5" font-size="15" textLength="99" lengthAdjust="spacingAndGlyphs" stroke="#111" stroke-width="0.4">© 2025 BMW AG</text>
<text x="739" y="552.3" font-size="12.3" textLength="42.5" lengthAdjust="spacingAndGlyphs" style="fill:#444">553255</text>
<polygon points="727.4,506.9 736.9,511.7 767.1,494.3 786.9,505.7 763,526 765.7,527.9 727.4,527.9" fill="#fff" stroke="#111" stroke-width="1" />
<polygon points="727.4,527.9 765.7,527.9 765.7,534 727.4,534" fill="#111" stroke="#111" stroke-width="0.6" />
<polygon points="786.9,505.7 786.9,511.2 764.5,526.8 756.4,522.6" fill="#111" stroke="#111" stroke-width="0.6" />
<g filter="url(#soft)">
<path d="M57.3,498.5 Q57.5,495.3 64.3,495.3 Q71.1,495.3 71.3,498.5 L75,512 Q75,515.5 64.2,515.5 Q53.3,515.5 53.3,512 Z" fill="url(#gDarkV)"/>
<path d="M59,515 L69.4,515 L66.8,535 Q64.3,536.5 61.9,535 Z" fill="url(#gDarkV)"/>
<ellipse cx="64.3" cy="498" rx="5.6" ry="2" fill="#68696c"/>
<circle cx="64.3" cy="498" r="0.8" fill="#333"/>
<line x1="60" y1="521.5" x2="68.5" y2="521.5" stroke="#333" stroke-width="0.8" />
<ellipse cx="132.4" cy="527.5" rx="19.3" ry="7" fill="#8d8e90"/>
<ellipse cx="132.4" cy="525.5" rx="19.3" ry="7" fill="#b3b4b6"/>
<polygon points="115.8,506 123,499.8 141.5,499.8 149,506 149,522 141,527 124,527 115.8,522" fill="#9c9d9f" stroke="none" stroke-width="1" />
<polygon points="115.8,506 124,512 124,527 115.8,522" fill="#adaeb0" stroke="none" stroke-width="1" />
<polygon points="141,512 149,506 149,522 141,527" fill="#8a8b8d" stroke="none" stroke-width="1" />
<polygon points="115.8,506 123,499.8 141.5,499.8 149,506 141,512 124,512" fill="#b7b8ba" stroke="none" stroke-width="1" />
<ellipse cx="132.4" cy="506" rx="9.6" ry="5" fill="#6c6d6f"/>
<ellipse cx="132.4" cy="507.5" rx="8" ry="3.5" fill="#88898b"/>
<rect x="198.5" y="503" width="7.4" height="33.5" rx="1" fill="url(#gMetalV)"/>
<polygon points="194.8,499 209.3,499 205.9,505 198.5,505" fill="#8e8f91" stroke="none" stroke-width="1" />
<ellipse cx="202" cy="498.8" rx="7.3" ry="3.2" fill="#a9aaac"/>
<path d="M199,498.8 l6,0 M202,497.3 l0,3" stroke="#6f7072" stroke-width="0.9" fill="none"/>
<polygon points="266.8,510 276.5,510 275.5,528 271.8,537 268,528" fill="url(#gMetalV)" stroke="none" stroke-width="1" />
<line x1="266.2" y1="514.2" x2="277" y2="512.4" stroke="#5f6062" stroke-width="1.1" />
<line x1="266.65" y1="517.8" x2="276.55" y2="516" stroke="#5f6062" stroke-width="1.1" />
<line x1="267.1" y1="521.4" x2="276.1" y2="519.6" stroke="#5f6062" stroke-width="1.1" />
<line x1="267.55" y1="525" x2="275.65" y2="523.2" stroke="#5f6062" stroke-width="1.1" />
<line x1="268" y1="528.6" x2="275.2" y2="526.8" stroke="#5f6062" stroke-width="1.1" />
<line x1="268.45" y1="532.2" x2="274.75" y2="530.4" stroke="#5f6062" stroke-width="1.1" />
<ellipse cx="271.5" cy="506" rx="10.5" ry="6" fill="#8a8b8d"/>
<ellipse cx="271.5" cy="504.3" rx="10.3" ry="5.8" fill="#bebfc1"/>
<ellipse cx="272" cy="502" rx="5" ry="2.6" fill="#e4e5e7"/>
<ellipse cx="272" cy="502" rx="2.4" ry="1.4" fill="#6f7072"/>
<ellipse cx="625.5" cy="520" rx="24.4" ry="15" fill="#7f8082"/>
<ellipse cx="625.5" cy="518.3" rx="24.4" ry="14.6" fill="#98999b"/>
<ellipse cx="625" cy="518.5" rx="8.3" ry="4" fill="#fff"/>
<rect x="692.4" y="509" width="11.4" height="22" rx="1.5" fill="url(#gMetalV)"/>
<line x1="692.6" y1="514.8" x2="703.6" y2="513.4" stroke="#77787a" stroke-width="0.9" />
<line x1="692.6" y1="517.8" x2="703.6" y2="516.4" stroke="#77787a" stroke-width="0.9" />
<line x1="692.6" y1="520.8" x2="703.6" y2="519.4" stroke="#77787a" stroke-width="0.9" />
<line x1="692.6" y1="523.8" x2="703.6" y2="522.4" stroke="#77787a" stroke-width="0.9" />
<line x1="692.6" y1="526.8" x2="703.6" y2="525.4" stroke="#77787a" stroke-width="0.9" />
<line x1="692.6" y1="529.8" x2="703.6" y2="528.4" stroke="#77787a" stroke-width="0.9" />
<ellipse cx="698.1" cy="506" rx="12.3" ry="6.6" fill="#88898b"/>
<ellipse cx="698.1" cy="504" rx="12.1" ry="6.8" fill="#b9babc"/>
<ellipse cx="698.5" cy="501" rx="5.5" ry="2.8" fill="#dedfe1"/>
<ellipse cx="698.5" cy="500.8" rx="2.8" ry="1.6" fill="#606163"/>
<rect x="763.4" y="412" width="11.2" height="28" rx="1.5" fill="url(#gMetalV)"/>
<line x1="763.6" y1="417.8" x2="774.4" y2="416.4" stroke="#8a8b8d" stroke-width="0.8" />
<line x1="763.6" y1="420.6" x2="774.4" y2="419.2" stroke="#8a8b8d" stroke-width="0.8" />
<line x1="763.6" y1="423.4" x2="774.4" y2="422" stroke="#8a8b8d" stroke-width="0.8" />
<line x1="763.6" y1="426.2" x2="774.4" y2="424.8" stroke="#8a8b8d" stroke-width="0.8" />
<line x1="763.6" y1="429" x2="774.4" y2="427.6" stroke="#8a8b8d" stroke-width="0.8" />
<line x1="763.6" y1="431.8" x2="774.4" y2="430.4" stroke="#8a8b8d" stroke-width="0.8" />
<line x1="763.6" y1="434.6" x2="774.4" y2="433.2" stroke="#8a8b8d" stroke-width="0.8" />
<line x1="763.6" y1="437.4" x2="774.4" y2="436" stroke="#8a8b8d" stroke-width="0.8" />
<path d="M758.9,401 L777.8,401 L777.8,413 Q768.3,417.5 758.9,413 Z" fill="url(#gMetalV)"/>
<ellipse cx="768.3" cy="401" rx="9.4" ry="3" fill="#c5c6c8"/>
<ellipse cx="768.3" cy="401.2" rx="3.6" ry="1.6" fill="#5f6062"/>
<polygon points="759.4,467 778.6,467 777.5,476 770.5,488.6 768,488.6 761,476" fill="#8e8f91" stroke="none" stroke-width="1" />
<polygon points="765,468 772.5,468 771.5,480 769.3,488 767,480" fill="#d0d1d3" stroke="none" stroke-width="1" />
<polygon points="760,468 763,468 765,480 762,477" fill="#6f7072" stroke="none" stroke-width="1" />
<ellipse cx="767.6" cy="465" rx="15" ry="5" fill="#808183"/>
<ellipse cx="767.6" cy="462" rx="17.7" ry="6" fill="#b5b6b8"/>
<ellipse cx="767.6" cy="458" rx="14" ry="5.4" fill="#88898b"/>
<ellipse cx="767.6" cy="452.8" rx="13.6" ry="5.7" fill="#a6a7a9"/>
<rect x="754" y="452.8" width="27.2" height="4" fill="#9b9c9e"/>
<ellipse cx="767.6" cy="452.5" rx="13.6" ry="5.7" fill="#babbbd"/>
<ellipse cx="768" cy="452.3" rx="2.4" ry="1.3" fill="#5f6062"/>
</g>
<text x="283.5" y="110" class="b" font-size="16.8" text-anchor="middle" stroke="#111" stroke-width="0.45" textLength="10.4" lengthAdjust="spacingAndGlyphs">1</text>
<line x1="283.5" y1="114" x2="283.5" y2="141" stroke="#111" stroke-width="1.3" />
<text x="678.8" y="243.8" class="b" font-size="16.8" text-anchor="middle" stroke="#111" stroke-width="0.45" textLength="10.4" lengthAdjust="spacingAndGlyphs">6</text>
<line x1="678.8" y1="247" x2="678.8" y2="263" stroke="#111" stroke-width="1.3" />
<text x="749.8" y="273" class="b" font-size="16.8" text-anchor="middle" stroke="#111" stroke-width="0.45" textLength="10.4" lengthAdjust="spacingAndGlyphs">9</text>
<line x1="750" y1="243" x2="750" y2="258" stroke="#111" stroke-width="1.3" />
<text x="638" y="352.7" class="b" font-size="16.8" text-anchor="middle" stroke="#111" stroke-width="0.45" textLength="10.4" lengthAdjust="spacingAndGlyphs">4</text>
<line x1="637.6" y1="317" x2="637.6" y2="337.5" stroke="#111" stroke-width="1.3" />
<text x="713.8" y="352.7" class="b" font-size="16.8" text-anchor="middle" stroke="#111" stroke-width="0.45" textLength="10.4" lengthAdjust="spacingAndGlyphs">8</text>
<line x1="714" y1="311.8" x2="714" y2="337.5" stroke="#111" stroke-width="1.3" />
<text x="610" y="353.4" class="b" font-size="16.8" text-anchor="middle" stroke="#111" stroke-width="0.45" textLength="20.8" lengthAdjust="spacingAndGlyphs">10</text>
<line x1="583.3" y1="348.1" x2="599" y2="348.1" stroke="#111" stroke-width="1.3" />
<text x="410.5" y="390" class="b" font-size="16.8" text-anchor="middle" stroke="#111" stroke-width="0.45" textLength="10.4" lengthAdjust="spacingAndGlyphs">5</text>
<line x1="410.5" y1="392.5" x2="410.5" y2="411" stroke="#111" stroke-width="1.3" />
<text x="472.2" y="428.8" class="b" font-size="16.8" text-anchor="middle" stroke="#111" stroke-width="0.45" textLength="10.4" lengthAdjust="spacingAndGlyphs">3</text>
<line x1="472.3" y1="390.5" x2="472.3" y2="413.8" stroke="#111" stroke-width="1.3" />
<text x="348" y="497.5" class="b" font-size="16.8" text-anchor="middle" stroke="#111" stroke-width="0.45" textLength="10.4" lengthAdjust="spacingAndGlyphs">2</text>
<line x1="348" y1="463.8" x2="348" y2="483.8" stroke="#111" stroke-width="1.3" />
<text x="444.7" y="497.5" class="b" font-size="16.8" text-anchor="middle" stroke="#111" stroke-width="0.45" textLength="10.4" lengthAdjust="spacingAndGlyphs">7</text>
<line x1="445" y1="457.5" x2="445" y2="483.8" stroke="#111" stroke-width="1.3" />
<line x1="521" y1="142.3" x2="733" y2="223.8" stroke="#e9e9e9" stroke-width="3" />
<line x1="521" y1="142.3" x2="733" y2="223.8" stroke="#111" stroke-width="1.3" />
<circle cx="520.8" cy="142.3" r="2.4" fill="#111"/>
<line x1="494.3" y1="155.5" x2="494.3" y2="172" stroke="#fff" stroke-width="3" />
<line x1="494.3" y1="155.5" x2="494.3" y2="172" stroke="#111" stroke-width="1.2" />
<line x1="494.3" y1="181" x2="494.3" y2="185.5" stroke="#111" stroke-width="1.2" />
<polyline points="504.5,263 504.5,258.5 508,260" fill="none" stroke="#fff" stroke-width="3" />
<polyline points="504.5,263 504.5,258.5 510,261.5" fill="none" stroke="#111" stroke-width="1.2" />
<line x1="510" y1="261.5" x2="548" y2="283" stroke="#f2f2f2" stroke-width="3.2" />
<line x1="510" y1="261.5" x2="620.5" y2="324" stroke="#111" stroke-width="1.2" stroke-dasharray="7 2 1.5 2"/>
<line x1="176.3" y1="324.5" x2="176.3" y2="356" stroke="#111" stroke-width="1.2" stroke-dasharray="7 2 1.5 2"/>
<line x1="195" y1="371.5" x2="195" y2="378.5" stroke="#111" stroke-width="1.3" />
<line x1="195" y1="399" x2="195" y2="419.5" stroke="#111" stroke-width="1.3" />
<circle cx="306.3" cy="373.3" r="2.3" fill="#111"/>
<line x1="306.3" y1="373.3" x2="332.5" y2="417.5" stroke="#111" stroke-width="1.3" stroke-dasharray="4.5 2"/>
<line x1="332.5" y1="417.5" x2="349" y2="443" stroke="#111" stroke-width="1.3" />
<polyline points="495.5,320 494.9,317.5 522,305.6 522.6,309" fill="none" stroke="#111" stroke-width="1.2" stroke-dasharray="9 2 1.5 2"/>
<line x1="621" y1="297" x2="621" y2="311" stroke="#111" stroke-width="1.2" />
<line x1="647.5" y1="275" x2="653.4" y2="278.5" stroke="#111" stroke-width="1.2" />
<line x1="669" y1="285.9" x2="701.5" y2="301.3" stroke="#111" stroke-width="1.2" stroke-dasharray="7 2 1.5 2"/>
<line x1="710" y1="284" x2="722.5" y2="289.9" stroke="#111" stroke-width="1.2" stroke-dasharray="6 2"/>
<line x1="388.5" y1="417" x2="396" y2="421.5" stroke="#111" stroke-width="1.2" />
<line x1="410" y1="427.5" x2="436" y2="441" stroke="#111" stroke-width="1.2" stroke-dasharray="7 2 1.5 2"/>
<line x1="447.5" y1="425.5" x2="456" y2="430.5" stroke="#111" stroke-width="1.2" stroke-dasharray="5 2"/>
<polyline points="417.5,456 424,460.5 424,440 434,444" fill="none" stroke="#111" stroke-width="1.2" />
<circle cx="176.3" cy="314.3" r="10" fill="#fff" stroke="#111" stroke-width="1.3"/>
<text x="176.3" y="318.7" class="b" font-size="12.2" text-anchor="middle" textLength="16.6" lengthAdjust="spacingAndGlyphs">11</text>
<circle cx="195" cy="430" r="10" fill="#fff" stroke="#111" stroke-width="1.3"/>
<text x="195" y="434.4" class="b" font-size="12.2" text-anchor="middle" textLength="16.6" lengthAdjust="spacingAndGlyphs">12</text>
<circle cx="522.5" cy="321.2" r="10" fill="#fff" stroke="#111" stroke-width="1.3"/>
<text x="522.5" y="325.6" class="b" font-size="12.2" text-anchor="middle" textLength="16.6" lengthAdjust="spacingAndGlyphs">14</text>
<circle cx="522.5" cy="343.6" r="10" fill="#fff" stroke="#111" stroke-width="1.3"/>
<text x="522.5" y="348" class="b" font-size="12.2" text-anchor="middle" textLength="16.6" lengthAdjust="spacingAndGlyphs">13</text>
<circle cx="621.5" cy="286.9" r="10" fill="#fff" stroke="#111" stroke-width="1.3"/>
<text x="621.5" y="291.3" class="b" font-size="12.2" text-anchor="middle" textLength="16.6" lengthAdjust="spacingAndGlyphs">15</text>
<circle cx="638.5" cy="271" r="10" fill="#fff" stroke="#111" stroke-width="1.3"/>
<text x="638.5" y="275.4" class="b" font-size="12.2" text-anchor="middle" textLength="16.6" lengthAdjust="spacingAndGlyphs">16</text>
<circle cx="701" cy="278.9" r="10" fill="#fff" stroke="#111" stroke-width="1.3"/>
<text x="701" y="283.3" class="b" font-size="12.2" text-anchor="middle" textLength="16.6" lengthAdjust="spacingAndGlyphs">17</text>
<circle cx="379.3" cy="413" r="10" fill="#fff" stroke="#111" stroke-width="1.3"/>
<text x="379.3" y="417.4" class="b" font-size="12.2" text-anchor="middle" textLength="16.6" lengthAdjust="spacingAndGlyphs">16</text>
<circle cx="438.5" cy="421.5" r="10" fill="#fff" stroke="#111" stroke-width="1.3"/>
<text x="438.5" y="425.9" class="b" font-size="12.2" text-anchor="middle" textLength="16.6" lengthAdjust="spacingAndGlyphs">17</text>
<circle cx="408.7" cy="450.8" r="10" fill="#fff" stroke="#111" stroke-width="1.3"/>
<text x="408.7" y="455.2" class="b" font-size="12.2" text-anchor="middle" textLength="16.6" lengthAdjust="spacingAndGlyphs">18</text>
</svg>
</body></html>
